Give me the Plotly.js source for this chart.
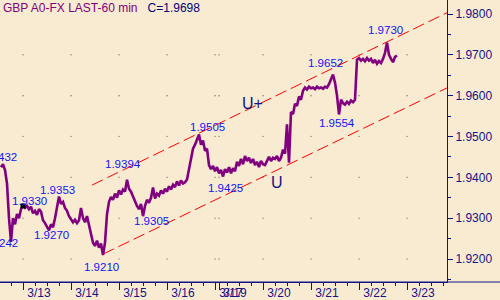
<!DOCTYPE html>
<html><head><meta charset="utf-8">
<script src="https://cdn.plot.ly/plotly-3.0.1.min.js"></script>
<style>html,body{margin:0;padding:0;background:#F8EBD1;}#chart{width:500px;height:300px;}</style>
</head><body><div id="chart"></div>
<script>
// ---------- DATA ----------
const closes = [
1.9425,1.9432,1.9418,1.9385,1.9300,1.9242,1.9300,1.9285,1.9310,1.9300,
1.9322,1.9330,1.9325,1.9330,1.9322,1.9328,1.9312,1.9318,1.9308,1.9322,
1.9316,1.9295,1.9288,1.9280,1.9270,1.9285,1.9278,1.9300,1.9330,1.9353,
1.9335,1.9340,1.9325,1.9318,1.9305,1.9298,1.9290,1.9296,1.9288,1.9295,
1.9325,1.9300,1.9290,1.9305,1.9285,1.9262,1.9240,1.9232,1.9245,1.9228,
1.9238,1.9210,1.9240,1.9310,1.9340,1.9352,1.9345,1.9360,1.9350,1.9368,
1.9358,1.9370,1.9365,1.9394,1.9372,1.9365,1.9352,1.9340,1.9330,1.9322,
1.9335,1.9305,1.9330,1.9345,1.9338,1.9350,1.9375,1.9348,1.9360,1.9355,
1.9368,1.9360,1.9372,1.9365,1.9378,1.9370,1.9382,1.9376,1.9390,1.9380,
1.9392,1.9385,1.9388,1.9395,1.9420,1.9445,1.9470,1.9480,1.9495,1.9505,
1.9480,1.9490,1.9465,1.9470,1.9430,1.9420,1.9428,1.9415,1.9425,1.9410,
1.9418,1.9402,1.9420,1.9412,1.9425,1.9410,1.9422,1.9415,1.9438,1.9428,
1.9445,1.9432,1.9452,1.9440,1.9448,1.9435,1.9445,1.9430,1.9438,1.9425,
1.9440,1.9432,1.9430,1.9442,1.9450,1.9440,1.9448,1.9445,1.9452,1.9440,
1.9448,1.9468,1.9458,1.9530,1.9436,1.9560,1.9555,1.9580,1.9575,1.9598,
1.9590,1.9612,1.9620,1.9615,1.9622,1.9618,1.9620,1.9616,1.9622,1.9618,
1.9620,1.9617,1.9622,1.9620,1.9628,1.9640,1.9652,1.9632,1.9600,1.9554,
1.9590,1.9582,1.9578,1.9585,1.9580,1.9588,1.9584,1.9590,1.9688,1.9692,
1.9686,1.9690,1.9684,1.9692,1.9686,1.9690,1.9680,1.9688,1.9678,1.9685,
1.9680,1.9690,1.9705,1.9730,1.9700,1.9690,1.9682,1.9695,1.9698
];
const dayBounds = [11, 35, 59, 83, 107, 109, 131, 155, 179, 203];
const dayLabels = ['3/13','3/14','3/15','3/16','3/17','3/19','3/20','3/21','3/22','3/23'];
const yTicks = [1.92, 1.93, 1.94, 1.95, 1.96, 1.97, 1.98];
const gridRows = [1.92, 1.93, 1.94, 1.95, 1.96, 1.97];
const labelIdx = [1, 5, 11, 24, 29, 51, 63, 71, 99, 111, 166, 169, 193];
const labelVal = [1.9432, 1.9242, 1.9330, 1.9270, 1.9353, 1.9210, 1.9394, 1.9305, 1.9505, 1.9425, 1.9652, 1.9554, 1.9730];
const upperX = [45.5, 223];
const upperY = [1.9381, 1.9803];
const lowerX = [51, 223];
const lowerY = [1.9212, 1.9619];
const markIdx = [11];
const markVal = [1.9330];

// ---------- STYLE / LAYOUT ----------
const BG = '#F8EBD1', NAVY = '#13138A', PURPLE = '#800080', BLUE = '#1414F5';
const FONT = 'Liberation Sans, Arial, sans-serif';
const XR = [-0.5, 223];
const labelShift = [[16,7,'right'],[9,-1,'right'],[6,5,'center'],[2,-4.6,'center'],[-2,6.5,'center'],
  [-2,-12,'center'],[-4,16,'center'],[8,-5,'center'],[8,7.5,'center'],[2,-21,'center'],
  [-8,11,'center'],[-2,-8.5,'center'],[-2,12.6,'center']];

const hours = closes.map((_, i) => i);
const gx = [], gy = [];
dayBounds.forEach(b => gridRows.forEach(r => { gx.push(b); gy.push(r); }));

function interp(xs, ys, x) { return ys[0] + (x - xs[0]) * (ys[1] - ys[0]) / (xs[1] - xs[0]); }

const traces = [
  {x: gx, y: gy, type: 'scatter', mode: 'markers', marker: {size: 1.6, color: '#9a9682'}, hoverinfo: 'skip'},
  {x: upperX, y: upperY, type: 'scatter', mode: 'lines', line: {color: '#FF0000', width: 1, dash: '12px,5px'}},
  {x: lowerX, y: lowerY, type: 'scatter', mode: 'lines', line: {color: '#FF0000', width: 1, dash: '12px,5px'}},
  {x: hours, y: closes, type: 'scatter', mode: 'lines', line: {color: PURPLE, width: 2.6}},
  {x: markIdx, y: markVal, type: 'scatter', mode: 'markers', marker: {symbol: 'square', size: 5, color: '#000000'}},
  {x: XR, y: [1.95, 1.95], xaxis: 'x2', type: 'scatter', mode: 'lines', line: {width: 0}, opacity: 0, hoverinfo: 'skip'}
];

const annotations = labelIdx.map((idx, k) => ({
  x: idx, y: labelVal[k], xref: 'x', yref: 'y', text: labelVal[k].toFixed(4), showarrow: false,
  xanchor: labelShift[k][2], yanchor: 'middle', xshift: labelShift[k][0], yshift: labelShift[k][1],
  font: {family: FONT, size: 11.5, color: BLUE}
}));
annotations.push({x: 125.5, y: interp(upperX, upperY, 125.5), xref: 'x', yref: 'y', text: 'U+', showarrow: false,
  yanchor: 'middle', xanchor: 'center', yshift: 4, font: {family: FONT, size: 16, color: NAVY}});
annotations.push({x: 138, y: interp(lowerX, lowerY, 138), xref: 'x', yref: 'y', text: 'U', showarrow: false,
  yanchor: 'middle', xanchor: 'center', yshift: -12, font: {family: FONT, size: 16, color: NAVY}});

const layout = {
  width: 500, height: 300,
  margin: {l: 0, r: 53, t: 0, b: 18, pad: 0},
  paper_bgcolor: BG, plot_bgcolor: BG,
  showlegend: false,
  title: {
    text: '<span style="color:' + PURPLE + '">GBP A0-FX LAST-60 min</span>&nbsp;&nbsp;&nbsp;<span style="color:#000080">C=' + closes[closes.length - 1].toFixed(4) + '</span>',
    x: 3 / 500, xanchor: 'left', xref: 'container', y: 1 - 8 / 300, yanchor: 'middle', yref: 'container',
    font: {family: FONT, size: 12, color: PURPLE}
  },
  xaxis: {
    range: XR, tickmode: 'array', tickvals: dayBounds.map(b => b + 8), ticktext: dayLabels,
    ticks: '', tickangle: 0, showgrid: false, zeroline: false, showline: true, linecolor: NAVY, linewidth: 1,
    tickfont: {family: FONT, size: 12, color: NAVY}, automargin: false, fixedrange: true
  },
  xaxis2: {
    range: XR, overlaying: 'x', anchor: 'y', side: 'bottom', tickmode: 'array', tickvals: dayBounds,
    ticks: 'outside', ticklen: 7, tickcolor: NAVY, tickwidth: 1, showticklabels: false,
    showgrid: false, zeroline: false, showline: false,
    minor: {tick0: 11, dtick: 6, ticks: 'outside', ticklen: 3, tickcolor: NAVY, tickwidth: 1, showgrid: false}
  },
  yaxis: {
    side: 'right', range: [1.91437, 1.98343], tickmode: 'array', tickvals: yTicks,
    ticktext: yTicks.map(v => v.toFixed(4)), ticks: 'outside', ticklen: 5, tickcolor: NAVY, tickwidth: 1,
    showgrid: false, zeroline: false, showline: true, linecolor: NAVY, linewidth: 1,
    tickfont: {family: FONT, size: 12, color: NAVY}, automargin: false,
    minor: {tick0: 1.92, dtick: 0.005, ticks: 'outside', ticklen: 3, tickcolor: NAVY, showgrid: false}
  },
  shapes: [{type: 'line', xref: 'paper', yref: 'paper', x0: 0, x1: 500 / 447, y0: 0, y1: 0,
    line: {color: NAVY, width: 1}, layer: 'above'}],
  annotations: annotations
};

Plotly.newPlot('chart', traces, layout, {staticPlot: true, displayModeBar: false});
</script></body></html>
